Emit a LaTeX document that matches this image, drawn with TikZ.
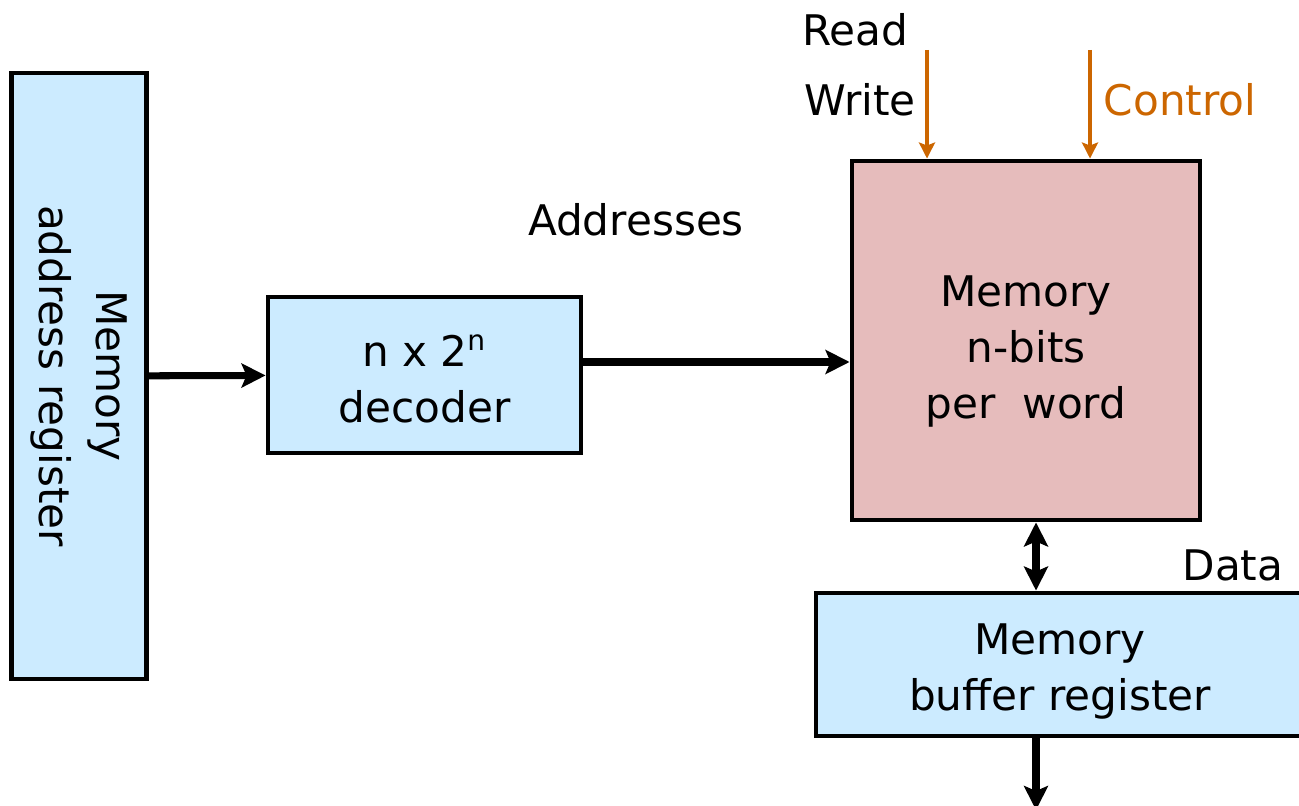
\documentclass[tikz,border=0pt]{standalone}
\usepackage{fontspec}
\setmainfont{DejaVu Sans}
\usetikzlibrary{arrows.meta}

\definecolor{regfill}{RGB}{204,235,255}
\definecolor{memfill}{RGB}{230,188,188}
\definecolor{ctrlline}{RGB}{204,102,0}

\begin{document}
\begin{tikzpicture}[
		font=\fontsize{12}{16}\selectfont,
		regbox/.style={rectangle, draw=black, line width=1.4pt, fill=regfill,
			align=center, inner sep=2pt},
		membox/.style={rectangle, draw=black, line width=1.4pt, fill=memfill,
			align=center, inner sep=2pt},
		link/.style={-{Stealth[length=2.4mm, width=2.4mm, inset=0.5mm]}, line width=2pt},
		dlink/.style={{Stealth[length=2.4mm, width=2.4mm, inset=0.5mm]}-{Stealth[length=2.4mm, width=2.4mm, inset=0.5mm]}, line width=2pt},
		ctrl/.style={-{Stealth[length=1.6mm, width=1.6mm, inset=0.3mm]}, line width=1.1pt, draw=ctrlline},
		lbl/.style={inner sep=0pt}
	]
		\useasboundingbox (0,0) rectangle (12.99,-8.06);
		% registers and memory
		\node[regbox, rotate=-90, minimum width=6.06cm, minimum height=1.35cm] (mar) at (0.79,-3.76) {Memory\\address register};
		\node[regbox, minimum width=3.13cm, minimum height=1.56cm,
			label={[lbl, align=center, yshift=-0.4mm]center:{n x 2\textsuperscript{n}\\decoder}}] (dec) at (4.245,-3.75) {};
		\node[membox, minimum width=3.48cm, minimum height=3.59cm,
			label={[lbl, align=center, yshift=-1.1mm]center:{Memory\\n-bits\\per\ \ word}}] (mem) at (10.26,-3.405) {};
		\node[regbox, minimum width=4.9cm, minimum height=1.43cm,
			label={[lbl, align=center, yshift=-0.7mm, xshift=-0.1mm]center:{Memory\\buffer register}}] (mbr) at (10.61,-6.645) {};
		% labels
		\node[lbl] (addr) at (6.36,-2.2) {Addresses};
		\node[lbl] (read) at (8.55,-0.3) {Read};
		\node[lbl] (write) at (8.6,-1.0) {Write};
		\node[lbl, text=ctrlline] (control) at (11.8,-1.0) {Control};
		\node[lbl] (data) at (12.33,-5.65) {Data};
		% free ends
		\coordinate (rw) at (9.27,-0.5);
		\coordinate (ctl) at (10.9,-0.5);
		\coordinate (out) at (10.36,-8.1);
		% connectors
		\draw[link] (mar) -- (dec);
		\draw[link] ([yshift=1.3mm]dec.east) -- ([yshift=1.3mm]dec.east -| mem.west);
		\draw[ctrl] (rw) -- (rw |- mem.north);
		\draw[ctrl] (ctl) -- (ctl |- mem.north);
		\draw[dlink] ([xshift=1mm]mem.south) -- ([xshift=1mm]mem.south |- mbr.north);
		\draw[link] (out |- mbr.south) -- (out);
	\end{tikzpicture}
\end{document}
